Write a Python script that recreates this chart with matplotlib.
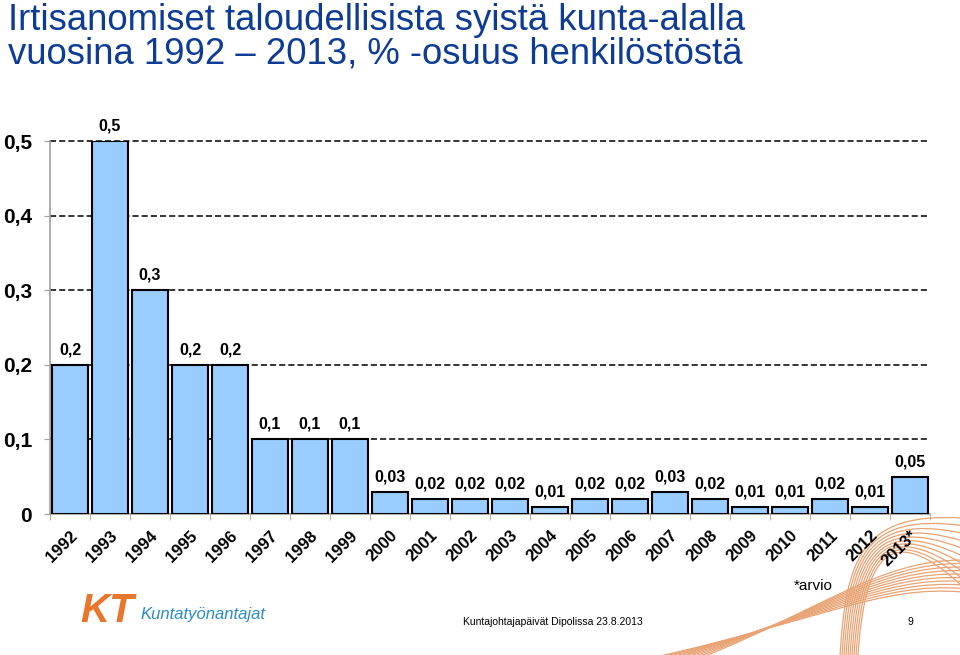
import matplotlib
matplotlib.use("Agg")
import matplotlib.pyplot as plt
import numpy as np
from matplotlib.path import Path
from matplotlib.patches import PathPatch

years = ["1992", "1993", "1994", "1995", "1996", "1997", "1998", "1999", "2000", "2001",
         "2002", "2003", "2004", "2005", "2006", "2007", "2008", "2009", "2010", "2011",
         "2012", "2013*"]
values = [0.2, 0.5, 0.3, 0.2, 0.2, 0.1, 0.1, 0.1, 0.03, 0.02,
          0.02, 0.02, 0.01, 0.02, 0.02, 0.03, 0.02, 0.01, 0.01, 0.02,
          0.01, 0.05]
yticks = [0, 0.1, 0.2, 0.3, 0.4, 0.5]
ytick_labels = ["0", "0,1", "0,2", "0,3", "0,4", "0,5"]

title_lines = ["Irtisanomiset taloudellisista syistä kunta-alalla",
               "vuosina 1992 – 2013, % -osuus henkilöstöstä"]

plt.rcParams['font.family'] = ['Liberation Sans', 'DejaVu Sans']

W, H = 960, 655
fig = plt.figure(figsize=(W / 100, H / 100), dpi=100)

# decorative orange curves (bottom right)
deco = fig.add_axes([0, 0, 1, 1])
deco.set_xlim(0, W)
deco.set_ylim(H, 0)
deco.axis('off')
for i in range(10):
    t = i / 9
    verts = [(660 + 45 * t, 656), (820, 620 - 10 * t), (880, 585 - 25 * t), (962, 592 - 32 * t)]
    p = Path(verts, [Path.MOVETO, Path.CURVE4, Path.CURVE4, Path.CURVE4])
    deco.add_patch(PathPatch(p, fc='none', ec='#E9A374', lw=0.9))
    verts2 = [(840 + 18 * t, 656), (846 + 18 * t, 560), (860 + 28 * t, 512 + 5 * t),
              (962, 518 + 68 * t)]
    p2 = Path(verts2, [Path.MOVETO, Path.CURVE4, Path.CURVE4, Path.CURVE4])
    deco.add_patch(PathPatch(p2, fc='none', ec='#E9A374', lw=0.9))

left, right, top, bottom = 50, 930, 141, 514
ax = fig.add_axes([left / W, 1 - bottom / H, (right - left) / W, (bottom - top) / H])
ax.set_zorder(2)
ax.patch.set_alpha(0)

x = np.arange(len(years))
bars = ax.bar(x, values, width=0.9, color='#99CCFF', edgecolor='black', linewidth=1.5, zorder=3)
for xi, v in zip(x, values):
    ax.annotate(("%g" % v).replace('.', ','), (xi, v), xytext=(0, 10.8), textcoords='offset points',
                ha='center', va='center', fontsize=11.5, fontweight='bold', color='black')

ax.set_xlim(-0.5, len(years) - 0.5)
ax.set_ylim(0, 0.5)
ax.set_yticks(yticks)
ax.set_yticklabels(ytick_labels, fontsize=15, fontweight='bold')
for yv in yticks[1:]:
    ax.axhline(yv, color='black', lw=1.1, ls=(0, (4, 2)), zorder=1, clip_on=False)

ax.set_xticks(x)
ax.set_xticklabels(years, rotation=45, ha='right', rotation_mode='anchor',
                   fontsize=12, fontweight='bold')
ax.tick_params(axis='x', which='major', length=0, pad=10)
ax.set_xticks(np.arange(-0.5, len(years), 1), minor=True)
ax.tick_params(axis='x', which='minor', length=4, color='#A0A0A0', direction='out')
ax.tick_params(axis='y', length=4, color='#A0A0A0', pad=9)
for s in ['top', 'right']:
    ax.spines[s].set_visible(False)
for s in ['left', 'bottom']:
    ax.spines[s].set_color('#A0A0A0')
    ax.spines[s].set_linewidth(1.2)

# title
fig.text(8 / W, 1 - 37 / H, "\n".join(title_lines), fontsize=26.3, color='#0E3C94',
         va='center', ha='left', linespacing=0.95)

# footer
fig.text(813 / W, 1 - 586 / H, "*arvio", fontsize=11, ha='center', va='center')
fig.text(463 / W, 1 - 622 / H, "Kuntajohtajapäivät Dipolissa 23.8.2013", fontsize=7.5,
         ha='left', va='center')
fig.text(910 / W, 1 - 622 / H, "9", fontsize=7.5, ha='center', va='center')
fig.text(80 / W, 1 - 611 / H, "KT", fontsize=29, fontweight='bold', style='italic',
         color='#E8762D', ha='left', va='center')
fig.text(140 / W, 1 - 614 / H, "Kuntatyönantajat", fontsize=12, style='italic',
         color='#2B8CC4', ha='left', va='center')

fig.savefig("out.png", dpi=100)
